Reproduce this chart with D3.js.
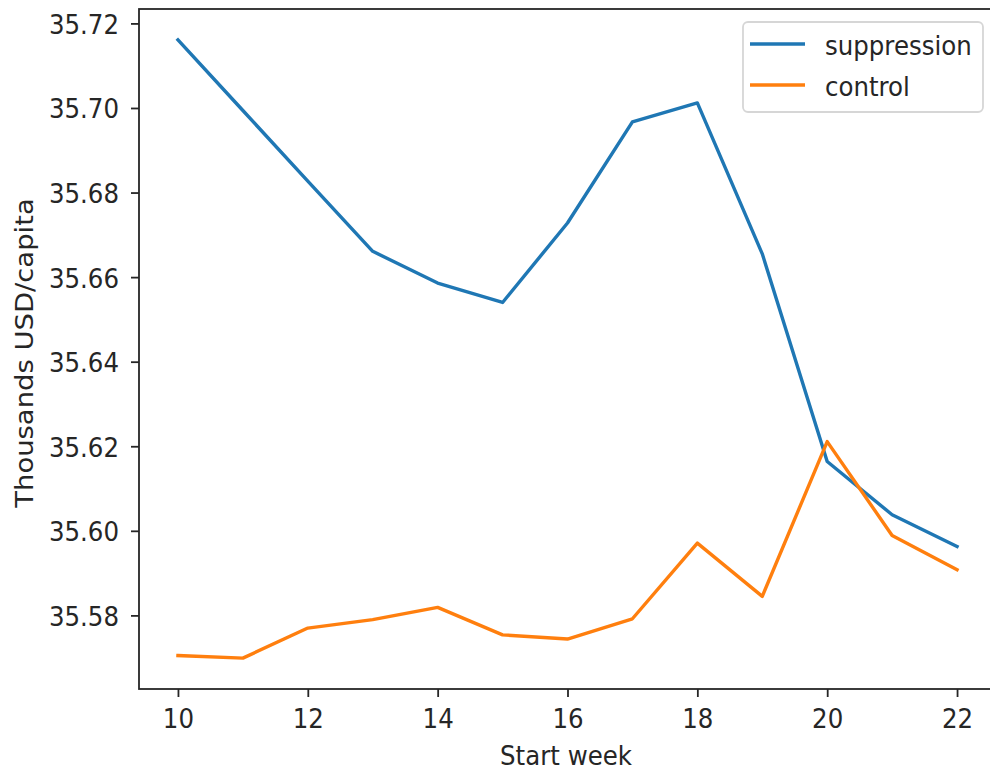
<!DOCTYPE html>
<html>
<head>
<meta charset="utf-8">
<script src="https://cdn.jsdelivr.net/npm/d3@7"></script>
<style>
  html, body { margin: 0; padding: 0; background: #fff; overflow: hidden; }
  svg { display: block; font-family: "DejaVu Sans", sans-serif; }
</style>
</head>
<body>
<div id="chart"></div>
<script>
// Data
const WEEKS = [10, 11, 12, 13, 14, 15, 16, 17, 18, 19, 20, 21, 22];
const SUPPRESSION = [35.7161, 35.6994, 35.6827, 35.6661, 35.6586, 35.6540, 35.6728,
                     35.6967, 35.7012, 35.6655, 35.6164, 35.6038, 35.5963];
const CONTROL = [35.5705, 35.5699, 35.5770, 35.5790, 35.5819, 35.5754, 35.5744,
                 35.5792, 35.5971, 35.5845, 35.6211, 35.5989, 35.5908];
const X_TICKS = [10, 12, 14, 16, 18, 20, 22];
const Y_TICKS = [35.58, 35.60, 35.62, 35.64, 35.66, 35.68, 35.70, 35.72];
const SERIES_NAMES = ["suppression", "control"];
const SERIES_COLORS = ["#1f77b4", "#ff7f0e"];

// Frame constants
const FRAME_WIDTH = 990;
const FRAME_HEIGHT = 773;
const PLOT = {left: 139, right: 996, top: 9, bottom: 689};
const TEXT_COLOR = "#262626";
const FONT_SIZE = "24.5px";
const STRETCH = 1.12;   // the source picture is a bit taller than wide

const FRAME = d3.select("#chart")
                .append("svg")
                  .attr("width", FRAME_WIDTH)
                  .attr("height", FRAME_HEIGHT);

// matplotlib style 5% margins
const xMin = d3.min(WEEKS), xMax = d3.max(WEEKS);
const xPad = (xMax - xMin) * 0.05;
const allY = SUPPRESSION.concat(CONTROL);
const yMin = d3.min(allY), yMax = d3.max(allY);
const yPad = (yMax - yMin) * 0.05;

const X_SCALE = d3.scaleLinear()
                  .domain([xMin - xPad, xMax + xPad])
                  .range([PLOT.left, PLOT.right]);

const Y_SCALE = d3.scaleLinear()
                  .domain([yMin - yPad, yMax + yPad])
                  .range([PLOT.bottom, PLOT.top]);

// x axis
const xAxis = FRAME.append("g")
    .attr("transform", "translate(0," + PLOT.bottom + ")")
    .call(d3.axisBottom(X_SCALE).tickValues(X_TICKS).tickSize(8)
            .tickFormat(d3.format("d")));

// y axis
const yAxis = FRAME.append("g")
    .attr("transform", "translate(" + PLOT.left + ",0)")
    .call(d3.axisLeft(Y_SCALE).tickValues(Y_TICKS).tickSize(8)
            .tickFormat(d3.format(".2f")));

[xAxis, yAxis].forEach((ax) => {
  ax.select(".domain").remove();
  ax.selectAll(".tick line").attr("stroke", TEXT_COLOR).attr("stroke-width", 1.8);
  ax.selectAll(".tick text")
    .attr("fill", TEXT_COLOR)
    .attr("font-size", FONT_SIZE)
    .attr("font-family", "DejaVu Sans, sans-serif");
});

xAxis.selectAll(".tick text")
     .attr("y", 0).attr("dy", 0)
     .attr("transform", "translate(0,39) scale(1," + STRETCH + ")");

yAxis.selectAll(".tick text")
     .attr("x", 0).attr("dy", "0.364em")
     .attr("transform", "translate(-20,0) scale(1," + STRETCH + ")");

// lines
const line = d3.line()
               .x((d) => X_SCALE(d[0]))
               .y((d) => Y_SCALE(d[1]));

[SUPPRESSION, CONTROL].forEach((vals, i) => {
  FRAME.append("path")
       .datum(WEEKS.map((w, j) => [w, vals[j]]))
       .attr("d", line)
       .attr("fill", "none")
       .attr("stroke", SERIES_COLORS[i])
       .attr("stroke-width", 3.4)
       .attr("stroke-linejoin", "round")
       .attr("stroke-linecap", "square");
});

// spines
FRAME.append("rect")
     .attr("x", PLOT.left)
     .attr("y", PLOT.top)
     .attr("width", PLOT.right - PLOT.left)
     .attr("height", PLOT.bottom - PLOT.top)
     .attr("fill", "none")
     .attr("stroke", TEXT_COLOR)
     .attr("stroke-width", 1.8);

// axis labels
FRAME.append("text")
     .attr("transform", "translate(566,765) scale(1," + STRETCH + ")")
     .attr("text-anchor", "middle")
     .attr("font-size", FONT_SIZE)
     .attr("fill", TEXT_COLOR)
     .text("Start week");

FRAME.append("text")
     .attr("transform", "translate(33,353) rotate(-90) scale(" + STRETCH + ",1)")
     .attr("text-anchor", "middle")
     .attr("font-size", FONT_SIZE)
     .attr("fill", TEXT_COLOR)
     .text("Thousands USD/capita");

// legend
const LEGEND = FRAME.append("g").attr("transform", "translate(743,22)");
LEGEND.append("rect")
      .attr("width", 240)
      .attr("height", 90)
      .attr("rx", 5)
      .attr("fill", "#fff")
      .attr("fill-opacity", 0.8)
      .attr("stroke", "#d6d6d6")
      .attr("stroke-width", 1.8);

SERIES_NAMES.forEach((name, i) => {
  const yy = 22 + i * 41;
  LEGEND.append("line")
        .attr("x1", 7).attr("x2", 62)
        .attr("y1", yy).attr("y2", yy)
        .attr("stroke", SERIES_COLORS[i])
        .attr("stroke-width", 3.4);
  LEGEND.append("text")
        .attr("transform", "translate(82," + (yy + 10.5) + ") scale(1," + STRETCH + ")")
        .attr("font-size", FONT_SIZE)
        .attr("fill", TEXT_COLOR)
        .text(name);
});
</script>
</body>
</html>
